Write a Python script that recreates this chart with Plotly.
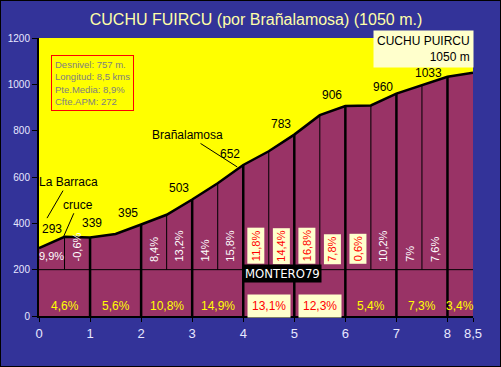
import plotly.graph_objects as go

# ---------------- data ----------------
title_text = "CUCHU FUIRCU (por Brañalamosa) (1050 m.)"
summit_name = "CUCHU PUIRCU"
summit_elev_label = "1050 m"

km = [0, 0.5, 1, 1.5, 2, 2.5, 3, 3.5, 4, 4.5, 5, 5.5, 6, 6.5, 7, 7.5, 8, 8.5]
elev = [293, 342, 339, 354, 395, 437, 503, 573, 652, 711, 783, 867, 906, 909, 960, 995, 1033, 1050]

# gradient per half kilometre (segment start km, label)
half_start = [0, 0.5, 2, 2.5, 3, 3.5, 4, 4.5, 5, 5.5, 6, 6.5, 7, 7.5]
half_grad = ["9,9%", "-0,6%", "8,4%", "13,2%", "14%", "15,8%", "11,8%", "14,4%",
             "16,8%", "7,8%", "0,6%", "10,2%", "7%", "7,6%"]

# gradient per kilometre (segment start, segment end, label)
km_start = [0, 1, 2, 3, 4, 5, 6, 7, 8]
km_end = [1, 2, 3, 4, 5, 6, 7, 8, 8.5]
km_grad = ["4,6%", "5,6%", "10,8%", "14,9%", "13,1%", "12,3%", "5,4%", "7,3%", "3,4%"]

# elevation labels at each kilometre
label_km = [0, 1, 2, 3, 4, 5, 6, 7, 8]

# named places (text, km)
place_names = ["La Barraca", "cruce", "Brañalamosa"]
place_km = [0, 0.5, 4]

info_lines = ["Desnivel: 757 m.", "Longitud: 8,5 kms", "Pte.Media: 8,9%", "Cfte.APM: 272"]
watermark = "MONTERO79"

x_ticks = [0, 1, 2, 3, 4, 5, 6, 7, 8, 8.5]
x_ticktext = ["0", "1", "2", "3", "4", "5", "6", "7", "8", "8,5"]

# ---------------- style ----------------
BG = "#333399"
YELLOW = "#FFFF00"
PURPLE = "#993366"
PALE = "#FFFFCC"
TICKCOL = "#E8E8FF"
BAND = 200           # height of the lower band (km gradients)
RED_FROM, RED_TO = 4.0, 6.5
FONT = "Arial, Liberation Sans, sans-serif"
L, R, T, B = 39, 28, 38, 51
W, H = 501, 367
PW, PH = W - L - R, H - T - B

E = dict(zip(km, elev))

fig = go.Figure()

# profile fill
fig.add_trace(go.Scatter(x=km, y=elev, mode="lines", fill="tozeroy",
                         fillcolor=PURPLE, line=dict(color="black", width=2.5),
                         hoverinfo="skip", showlegend=False))

# thin half-km lines
thin_x, thin_y = [], []
bounds = set()
for s in half_start:
    bounds.add(s)
    bounds.add(s + 0.5)
for b in sorted(bounds):
    if b != int(b):
        thin_x += [b, b, None]
        thin_y += [BAND, E[b], None]
fig.add_trace(go.Scatter(x=thin_x, y=thin_y, mode="lines",
                         line=dict(color="black", width=1), hoverinfo="skip", showlegend=False))

# thick km lines
thick_x, thick_y = [], []
for s in km_start[1:]:
    thick_x += [s, s, None]
    thick_y += [0, E[s], None]
fig.add_trace(go.Scatter(x=thick_x, y=thick_y, mode="lines",
                         line=dict(color="black", width=2.5), hoverinfo="skip", showlegend=False))

# band line
fig.add_trace(go.Scatter(x=[km[0], km[-1]], y=[BAND, BAND], mode="lines",
                         line=dict(color="black", width=1), hoverinfo="skip", showlegend=False))

ann = []

# half-km gradient labels
for i, (s, g) in enumerate(zip(half_start, half_grad)):
    red = RED_FROM <= s and s + 0.5 <= RED_TO
    ann.append(dict(x=s + 0.25, y=BAND, xref="x", yref="y", text=g, showarrow=False,
                    textangle=0 if i == 0 else -90, yanchor="bottom", yshift=5,
                    font=dict(family=FONT, size=11, color="red" if red else "white"),
                    bgcolor=PALE if red else None, borderpad=2))

# km gradient labels
for s, e, g in zip(km_start, km_end, km_grad):
    red = RED_FROM <= s and e <= RED_TO
    ann.append(dict(x=(s + e) / 2, y=BAND / 2, xref="x", yref="y", text=g, showarrow=False,
                    yanchor="middle", yshift=-13,
                    font=dict(family=FONT, size=12, color="red" if red else "yellow"),
                    bgcolor=PALE if red else None, borderpad=4 if red else 0))

# elevation labels
shifts = {0: (13, 19), 1: (2, 14), 7: (-13, 7), 8: (-19, 4)}
for k in label_km:
    dx, dy = shifts.get(k, (-13, 11))
    ann.append(dict(x=k, y=E[k], xref="x", yref="y", text=str(E[k]), showarrow=False,
                    xshift=dx, yshift=dy, font=dict(family=FONT, size=12, color="black")))

# named places with leader lines
leaders = {"La Barraca": (8, 30, 21, -36), "cruce": (-1, 0, 14, -32), "Brañalamosa": (-6, -2, -50, -32)}
for name, k in zip(place_names, place_km):
    xs, ys, ax, ay = leaders[name]
    ann.append(dict(x=k, y=E[k], xref="x", yref="y", text=name, showarrow=True,
                    arrowhead=0, arrowwidth=1, arrowcolor="black", ax=ax, ay=ay,
                    xshift=xs, yshift=ys, font=dict(family=FONT, size=12, color="black")))

# info box
ann.append(dict(x=(51 - L) / PW, y=1 - (55 - T) / PH, xref="paper", yref="paper",
                xanchor="left", yanchor="top", align="left", showarrow=False,
                text="<br>".join(info_lines), bgcolor=YELLOW, bordercolor="red",
                borderwidth=1, borderpad=3,
                font=dict(family=FONT, size=9.5, color="#808080")))

# summit box
ann.append(dict(x=(474 - L) / PW, y=1 + (T - 30) / PH, xref="paper", yref="paper",
                xanchor="right", yanchor="top", align="right", showarrow=False,
                text=summit_name + "<br>" + summit_elev_label, bgcolor=PALE, borderpad=3,
                font=dict(family=FONT, size=12, color="black")))

# watermark
ann.append(dict(x=(282 - L) / PW, y=(316 - 283) / PH, xref="paper", yref="paper",
                showarrow=False, text=watermark, bgcolor="black", borderpad=1,
                font=dict(family="Liberation Sans Narrow, Arial Narrow, DejaVu Sans Condensed, sans-serif",
                          size=13, color="white")))

fig.update_layout(
    width=W, height=H,
    margin=dict(l=L, r=R, t=T, b=B, autoexpand=False),
    paper_bgcolor=BG, plot_bgcolor=YELLOW,
    title=dict(text=title_text, x=0.5, xref="paper", xanchor="center",
               y=1 - 19 / H, yanchor="middle",
               font=dict(family=FONT, size=16, color="#FFFFA8")),
    showlegend=False,
    annotations=ann,
    shapes=[dict(type="rect", xref="paper", yref="paper",
                 x0=-L / PW, x1=1 + R / PW, y0=-B / PH, y1=1 + T / PH,
                 line=dict(color="black", width=2))],
    xaxis=dict(range=[km[0], km[-1]], tickvals=x_ticks, ticktext=x_ticktext,
               showgrid=False, zeroline=False, showline=True, linecolor="black", linewidth=2,
               ticks="outside", ticklen=4, tickcolor="black", automargin=False,
               tickfont=dict(family=FONT, size=13, color=TICKCOL), fixedrange=True),
    yaxis=dict(range=[0, 1200], dtick=200, showgrid=False, zeroline=False, showline=True,
               linecolor="black", linewidth=2, ticks="outside", ticklen=5, tickcolor="black",
               automargin=False,
               tickfont=dict(family=FONT, size=10, color=TICKCOL), fixedrange=True),
)

fig.write_html("out.html", config={"displayModeBar": False},
               post_script="document.body.style.margin='0';document.body.style.padding='0';")
